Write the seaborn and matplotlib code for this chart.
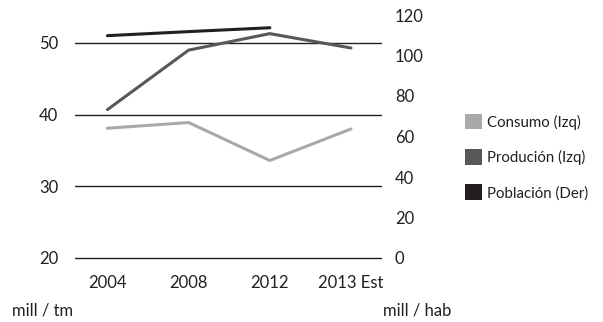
import seaborn as sns
import pandas as pd
import matplotlib.pyplot as plt
from matplotlib.patches import Patch

# data
years = ["2004", "2008", "2012", "2013 Est"]
consumo = [38.1, 38.9, 33.6, 38.0]
producion = [40.7, 49.0, 51.3, 49.3]
poblacion_years = ["2004", "2008", "2012"]
poblacion = [109.8, 111.8, 113.7]

series_names = ["Consumo (Izq)", "Produción (Izq)", "Población (Der)"]
colors = ["#a9a9a9", "#58585a", "#231f20"]

sns.set_style("white")
plt.rcParams["font.family"] = ["Lato", "DejaVu Sans"]
plt.rcParams["text.color"] = "#231f20"
fs = 12

left_df = pd.DataFrame({
    "year": years * 2,
    "value": consumo + producion,
    "serie": [series_names[0]] * 4 + [series_names[1]] * 4,
})
right_df = pd.DataFrame({"year": poblacion_years, "value": poblacion})

fig = plt.figure(figsize=(6.03, 3.22), dpi=100)
ax = fig.add_axes([75 / 603, 1 - 258 / 322, 306 / 603, 243 / 322])

sns.lineplot(
    data=left_df, x="year", y="value", hue="serie",
    palette=colors[:2], linewidth=2.2, ax=ax, legend=False, sort=False
)

ax2 = ax.twinx()
sns.lineplot(
    data=right_df, x="year", y="value",
    color=colors[2], linewidth=2.2, ax=ax2, legend=False, sort=False
)

ax.set_xlim(-0.4, 3.37)
ax.set_ylim(20, 53.9)
ax.set_yticks([20, 30, 40, 50])
ax2.set_ylim(0, 120)
ax2.set_yticks(range(0, 121, 20))

ax.grid(axis="y", color="#231f20", linewidth=1)
ax.grid(axis="x", visible=False)
ax2.grid(False)
ax.set_axisbelow(True)
for gl in ax.get_ygridlines():
    gl.set_clip_on(False)

for a in (ax, ax2):
    for s in a.spines.values():
        s.set_visible(False)
    a.set_xlabel("")
    a.set_ylabel("")
    a.tick_params(length=0, labelsize=fs, colors="#231f20")

ax.tick_params(axis="y", pad=12)
ax.tick_params(axis="x", pad=12)
ax2.tick_params(axis="y", pad=10)

fig.text(12 / 603, 1 - 310 / 322, "mill / tm", fontsize=fs, va="center", ha="left")
fig.text(383 / 603, 1 - 310 / 322, "mill / hab", fontsize=fs, va="center", ha="left")

handles = [Patch(facecolor=c, edgecolor="none") for c in colors]
fig.legend(
    handles, series_names, loc="center left",
    bbox_to_anchor=(465 / 603, 1 - 157 / 322), frameon=False,
    fontsize=10.8, handlelength=1.1, handleheight=1.25,
    handletextpad=0.35, labelspacing=1.3,
    borderpad=0, borderaxespad=0
)

plt.savefig("out.png", dpi=100)
